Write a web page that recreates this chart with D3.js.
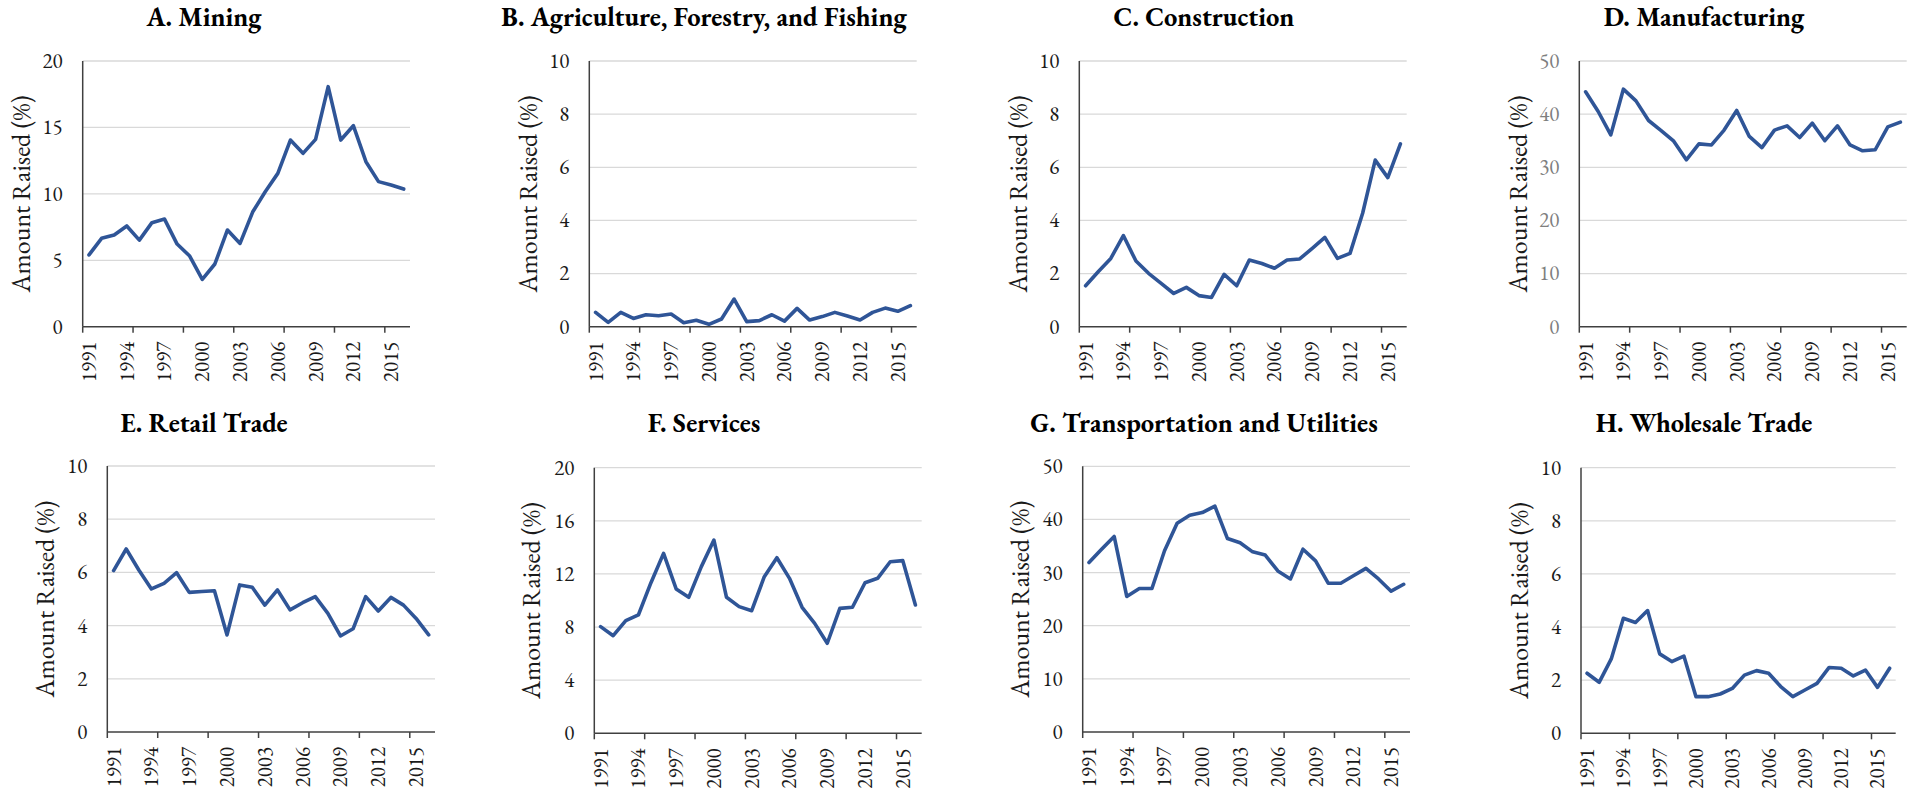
<!DOCTYPE html>
<html>
<head>
<meta charset="utf-8">
<script src="https://cdn.jsdelivr.net/npm/d3@7"></script>
<style>
  html, body { margin: 0; padding: 0; background: #fff; }
</style>
</head>
<body>
<div id="chart"></div>
<script>
const years = d3.range(1991, 2017);

const mining = [5.4, 6.65, 6.9, 7.58, 6.52, 7.83, 8.1, 6.22, 5.32, 3.56, 4.72, 7.28, 6.27, 8.63, 10.16, 11.54, 14.05, 13.05, 14.1, 18.07, 14.05, 15.13, 12.42, 10.92, 10.67, 10.36];
const agriculture = [0.54, 0.16, 0.54, 0.31, 0.45, 0.41, 0.48, 0.15, 0.24, 0.09, 0.29, 1.04, 0.19, 0.23, 0.45, 0.21, 0.69, 0.25, 0.38, 0.54, 0.4, 0.25, 0.54, 0.7, 0.58, 0.79];
const construction = [1.54, 2.07, 2.57, 3.43, 2.47, 2.01, 1.63, 1.25, 1.48, 1.17, 1.1, 1.97, 1.54, 2.51, 2.38, 2.2, 2.51, 2.55, 2.95, 3.36, 2.57, 2.76, 4.27, 6.27, 5.61, 6.88];
const manufacturing = [44.2, 40.5, 36.1, 44.7, 42.5, 38.8, 36.9, 34.9, 31.4, 34.4, 34.2, 37.0, 40.7, 35.8, 33.7, 37.0, 37.8, 35.6, 38.3, 35.0, 37.8, 34.2, 33.1, 33.3, 37.6, 38.5];
const retail = [6.07, 6.88, 6.09, 5.38, 5.59, 5.99, 5.25, 5.28, 5.31, 3.65, 5.53, 5.44, 4.77, 5.34, 4.59, 4.86, 5.09, 4.46, 3.61, 3.88, 5.09, 4.55, 5.06, 4.77, 4.27, 3.65];
const services = [8.03, 7.35, 8.48, 8.91, 11.34, 13.55, 10.87, 10.24, 12.55, 14.55, 10.24, 9.54, 9.23, 11.79, 13.22, 11.67, 9.49, 8.28, 6.78, 9.41, 9.49, 11.34, 11.67, 12.92, 13.0, 9.66];
const transport = [31.9, 34.4, 36.8, 25.5, 27.0, 27.0, 34.1, 39.3, 40.8, 41.3, 42.5, 36.4, 35.6, 33.9, 33.3, 30.3, 28.8, 34.4, 32.2, 28.0, 28.0, 29.4, 30.8, 28.8, 26.5, 27.8];
const wholesale = [2.26, 1.92, 2.8, 4.33, 4.17, 4.62, 2.99, 2.7, 2.91, 1.38, 1.38, 1.48, 1.69, 2.19, 2.36, 2.26, 1.76, 1.38, 1.63, 1.88, 2.48, 2.45, 2.16, 2.38, 1.73, 2.45];

const titles = ['A. Mining', 'B. Agriculture, Forestry, and Fishing', 'C. Construction', 'D. Manufacturing',
  'E. Retail Trade', 'F. Services', 'G. Transportation and Utilities', 'H. Wholesale Trade'];
const series = [mining, agriculture, construction, manufacturing, retail, services, transport, wholesale];
const yMax = [20, 10, 10, 50, 10, 20, 50, 10];
const yStep = [5, 2, 2, 10, 2, 4, 10, 2];
const yLabel = 'Amount Raised (%)';

// plot boxes [left, right, top, bottom]
const boxes = [
  [82.7, 410, 61, 326.7], [589.3, 916.7, 61, 326.7], [1079.3, 1406.7, 61, 326.7], [1579.3, 1906.7, 61, 326.7],
  [107.3, 435, 466, 732], [594.3, 921.7, 467.7, 733.3], [1082.7, 1410, 466.3, 732], [1581, 1895.7, 467.7, 733.3],
];
const titleX = [204, 704, 1204, 1704, 204, 704, 1204, 1704];
const titleY = [26, 26, 26, 26, 432, 432, 432, 432];
const labelX = [21.7, 528.3, 1018.3, 1518.3, 45, 531.7, 1020.8, 1519];

const W = 1921, H = 794;
const lineColor = '#2f5597';
const serif = "'EB Garamond', 'Liberation Serif', serif";

const svg = d3.select('#chart').append('svg')
  .attr('width', W)
  .attr('height', H);

series.forEach((vals, p) => {
  const [x0, x1, top, bottom] = boxes[p];
  const g = svg.append('g');

  const x = d3.scaleBand().domain(years).range([x0, x1]).paddingInner(0).paddingOuter(0);
  const y = d3.scaleLinear().domain([0, yMax[p]]).range([bottom, top]);
  const yTicks = d3.range(0, yMax[p] + yStep[p] / 2, yStep[p]);
  const cx = d => x(d) + x.bandwidth() / 2;

  // Gridlines
  g.append('g')
    .selectAll('line')
    .data(yTicks.filter(t => t > 0))
    .join('line')
    .attr('x1', x0).attr('x2', x1)
    .attr('y1', d => y(d)).attr('y2', d => y(d))
    .attr('stroke', '#d9d9d9')
    .attr('stroke-width', 1.3);

  // Y tick labels
  g.append('g')
    .selectAll('text')
    .data(yTicks)
    .join('text')
    .attr('x', x0 - 20)
    .attr('y', d => y(d))
    .attr('dy', '0.33em')
    .attr('text-anchor', 'end')
    .style('font-family', serif)
    .style('font-size', '21px')
    .attr('fill', p === 3 ? '#7f7f7f' : '#1a1a1a')
    .text(d => d);

  // Axes
  const axisColor = '#404040';
  g.append('line')
    .attr('x1', x0).attr('x2', x0)
    .attr('y1', top).attr('y2', bottom)
    .attr('stroke', axisColor).attr('stroke-width', 1.5);
  g.append('line')
    .attr('x1', x0).attr('x2', x1)
    .attr('y1', bottom).attr('y2', bottom)
    .attr('stroke', axisColor).attr('stroke-width', 1.5);

  // X tick marks every 4 categories, labels every 3
  g.append('g')
    .selectAll('line')
    .data(years.filter((d, i) => i % 4 === 0))
    .join('line')
    .attr('x1', d => x(d)).attr('x2', d => x(d))
    .attr('y1', bottom).attr('y2', bottom + 6)
    .attr('stroke', axisColor).attr('stroke-width', 1.5);

  g.append('g')
    .selectAll('text')
    .data(years.filter((d, i) => i % 3 === 0))
    .join('text')
    .attr('transform', d => `translate(${cx(d)},${bottom + 15}) rotate(-90)`)
    .attr('dy', '0.33em')
    .attr('text-anchor', 'end')
    .style('font-family', serif)
    .style('font-size', '21px')
    .attr('fill', '#1a1a1a')
    .text(d => d);

  // Series line
  const line = d3.line()
    .x((d, i) => cx(years[i]))
    .y(d => y(d));
  g.append('path')
    .datum(vals)
    .attr('d', line)
    .attr('fill', 'none')
    .attr('stroke', lineColor)
    .attr('stroke-width', 3.6)
    .attr('stroke-linejoin', 'round')
    .attr('stroke-linecap', 'round');

  // Title
  g.append('text')
    .attr('x', titleX[p])
    .attr('y', titleY[p])
    .attr('text-anchor', 'middle')
    .style('font-family', serif)
    .style('font-size', '26.5px')
    .style('font-weight', 'bold')
    .attr('fill', '#000')
    .text(titles[p]);

  // Y axis label
  g.append('text')
    .attr('transform', `translate(${labelX[p]},${(top + bottom) / 2}) rotate(-90)`)
    .attr('dy', '0.33em')
    .attr('text-anchor', 'middle')
    .style('font-family', serif)
    .style('font-size', '26px')
    .attr('fill', '#1a1a1a')
    .text(yLabel);
});
</script>
</body>
</html>
